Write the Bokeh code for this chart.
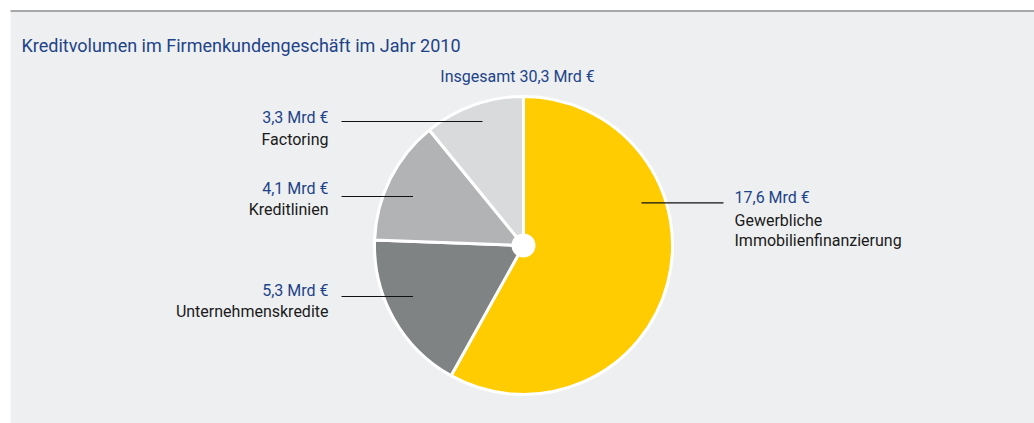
import math
from bokeh.plotting import figure
from bokeh.models import Range1d
from bokeh.core.properties import value
from bokeh.embed import file_html
from bokeh.resources import INLINE

# ---------------- data ----------------
title = "Kreditvolumen im Firmenkundengeschäft im Jahr 2010"
total_label = "Insgesamt 30,3 Mrd €"
categories = ["Gewerbliche\nImmobilienfinanzierung", "Unternehmenskredite", "Kreditlinien", "Factoring"]
values = [17.6, 5.3, 4.1, 3.3]
colors = ["#fecc00", "#808383", "#b1b3b4", "#d9dadc"]

# ---------------- layout ----------------
W, H = 1034, 423
FONT = "Roboto"
BLUE = "#1d4388"
BLACK = "#1a1a1a"

def X(rx):  # reference-pixel x -> data x
    return rx

def Y(ry):  # reference-pixel y -> data y
    return H - ry

p = figure(width=W, height=H, output_backend="svg", toolbar_location=None,
           x_range=Range1d(0, W), y_range=Range1d(0, H),
           min_border=0, min_border_left=0, min_border_right=0,
           min_border_top=0, min_border_bottom=0)
p.axis.visible = False
p.grid.visible = False
p.outline_line_color = None
p.background_fill_color = "white"
p.border_fill_color = "white"

# panel
p.quad(left=X(10), right=W + 10, bottom=-10, top=Y(11), fill_color="#eeeff1", line_color=None)
p.segment(x0=X(10), y0=Y(10.5), x1=W + 10, y1=Y(10.5), line_color="#8c8c8c", line_width=1.5)

# title
p.text(x=[X(21)], y=[Y(45)], text=[title], text_font=value(FONT), text_font_size="18px",
       text_color=BLUE, text_baseline="middle", text_align="left")
p.text(x=[X(517)], y=[Y(76)], text=[total_label], text_font=value(FONT), text_font_size="16px",
       text_color=BLUE, text_baseline="middle", text_align="center")

# pie
cx, cy, r = X(523), Y(245), 149
tot = sum(values)
starts, ends = [], []
a = math.pi / 2
for v in values:
    starts.append(a)
    a -= v / tot * 2 * math.pi
    ends.append(a)
p.wedge(x=[cx] * len(values), y=[cy] * len(values), radius=r,
        start_angle=starts, end_angle=ends, direction="clock",
        fill_color=colors, line_color="white", line_width=3)
p.scatter(x=[cx], y=[cy], size=24, fill_color="white", line_color=None)

# labels: (value y, name first-line y, line y, line x0, line x1, text x, align)
label_layout = [
    (196.5, 219.5, 202.3, 641, 723, 734, "left"),
    (289.5, 311, 296, 341, 412.5, 328, "right"),
    (188, 209, 196, 341, 412.5, 328, "right"),
    (117, 139, 121, 341, 482, 328, "right"),
]
for v, name, (vy, ny, ly, lx0, lx1, tx, al) in zip(values, categories, label_layout):
    vtxt = f"{v:.1f}".replace(".", ",") + " Mrd €"
    p.text(x=[X(tx)], y=[Y(vy)], text=[vtxt], text_font=value(FONT), text_font_size="16px",
           text_color=BLUE, text_baseline="middle", text_align=al)
    for i, line in enumerate(name.split("\n")):
        p.text(x=[X(tx)], y=[Y(ny + i * 20.5)], text=[line], text_font=value(FONT),
               text_font_size="16px", text_color=BLACK, text_baseline="middle", text_align=al)
    p.segment(x0=[X(lx0)], y0=[Y(ly)], x1=[X(lx1)], y1=[Y(ly)], line_color="#111111", line_width=1.2)

open("out.html", "w").write(file_html(p, INLINE))
